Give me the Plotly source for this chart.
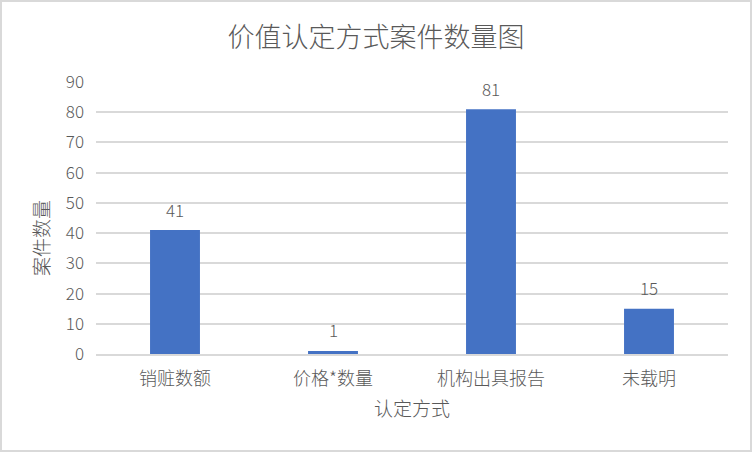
import plotly.graph_objects as go

# Data
categories = ['销赃数额', '价格*数量', '机构出具报告', '未载明']
counts = [41, 1, 81, 15]
y_ticks = [0, 10, 20, 30, 40, 50, 60, 70, 80, 90]

W, H = 752, 452
ml, mr, mt, mb = 96, 24, 82, 98
pw = W - ml - mr
ph = H - mt - mb

font_family = 'Noto Sans CJK SC, Microsoft YaHei, sans-serif'
gray = '#595959'

fig = go.Figure(go.Bar(
    x=categories,
    y=counts,
    marker=dict(color='#4472C4', line=dict(width=0)),
    width=0.316,
    hoverinfo='x+y',
))

# value labels above the bars
for c, v in zip(categories, counts):
    fig.add_annotation(
        x=c, y=v, text=str(v), showarrow=False,
        yanchor='middle', yshift=21,
        font=dict(size=17, color=gray, weight=300),
    )

fig.update_layout(
    width=W, height=H,
    margin=dict(l=ml, r=mr, t=mt, b=mb),
    paper_bgcolor='white',
    plot_bgcolor='white',
    font=dict(family=font_family, color=gray, size=17, weight=300),
    title=dict(text='价值认定方式案件数量图', x=0.5, xanchor='center',
               y=1 - 38 / H, yanchor='middle',
               font=dict(size=27, color=gray, weight=300)),
    showlegend=False,
    xaxis=dict(
        title=dict(text='认定方式', font=dict(size=19, color=gray, weight=300), standoff=13),
        showline=True, linecolor='#d9d9d9', linewidth=1.5,
        ticks='', tickfont=dict(size=18, color=gray, weight=300),
        ticklabelstandoff=8,
    ),
    yaxis=dict(
        range=[0, 90], tickvals=y_ticks,
        showgrid=True, gridcolor='#d9d9d9', gridwidth=1.5,
        zeroline=False, showline=False, ticks='',
        tickfont=dict(size=17, color=gray, weight=300),
        ticklabelstandoff=11,
    ),
    annotations=list(fig.layout.annotations) + [dict(
        text='案件数量', textangle=-90, showarrow=False,
        xref='paper', yref='paper',
        x=-(ml - 40) / pw, y=(354 - 238) / ph,
        xanchor='center', yanchor='middle',
        font=dict(size=19, color=gray, weight=300),
    )],
    shapes=[dict(
        type='rect', xref='paper', yref='paper',
        x0=-(ml - 1) / pw, x1=1 + (mr - 1) / pw,
        y0=-(mb - 1) / ph, y1=1 + (mt - 1) / ph,
        line=dict(color='#d9d9d9', width=2),
    )],
)

fig.write_html('out.html', config={'displayModeBar': False},
               post_script="document.body.style.margin='0';")
